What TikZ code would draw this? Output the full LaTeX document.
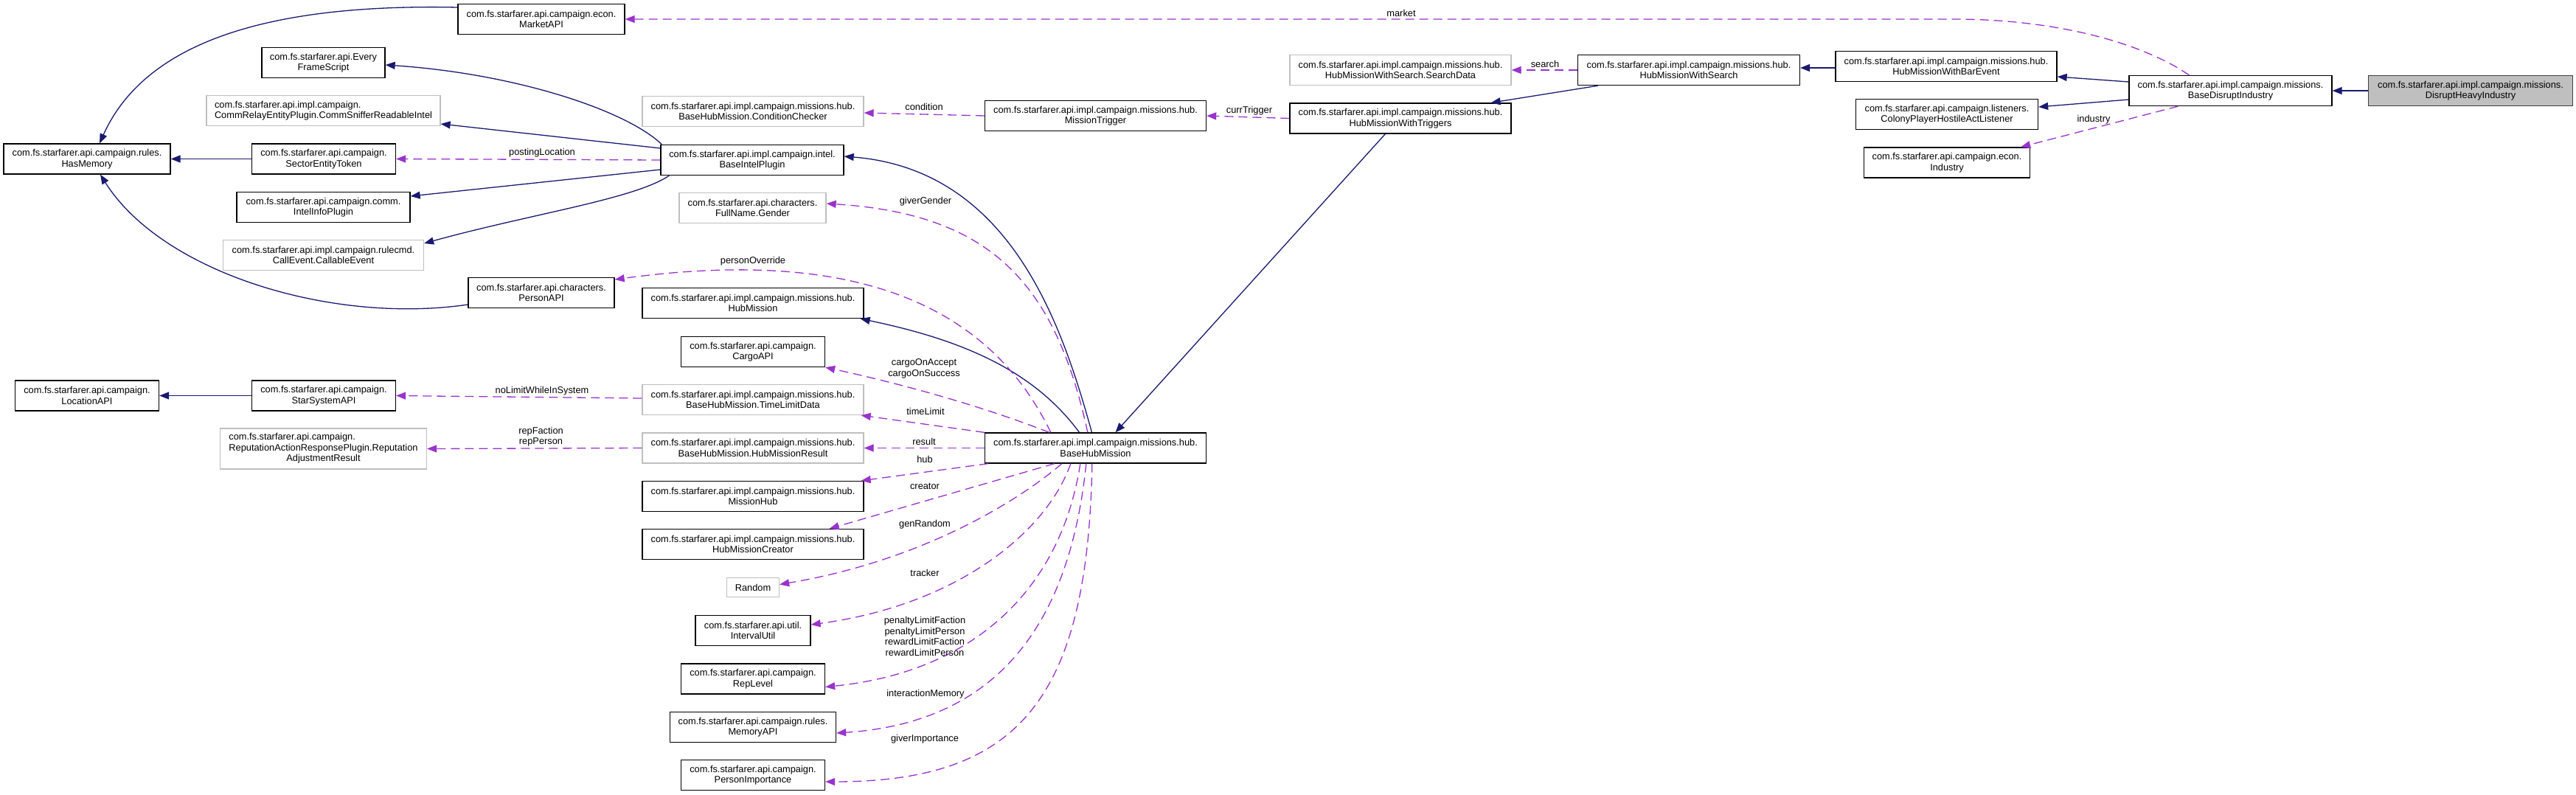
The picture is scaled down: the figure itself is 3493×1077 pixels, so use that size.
\documentclass[tikz,border=0pt]{standalone}
\usepackage{fontspec}
\setmainfont{Liberation Sans}
\usetikzlibrary{arrows.meta,calc}
\definecolor{navy}{HTML}{191970}
\definecolor{orch}{HTML}{9A32CD}
\definecolor{lgray}{HTML}{BFBFBF}
\definecolor{dgray}{HTML}{404040}
\begin{document}
\begin{tikzpicture}[x=1pt,y=-1pt,
  box/.style={draw=black,line width=1.3pt,fill=white,minimum height=41pt,inner sep=0pt,align=center,font=\fontsize{12.8}{14.5}\selectfont},
  gbox/.style={box,draw=lgray},
  lbl/.style={font=\fontsize{12.8}{14.5}\selectfont,align=center,inner sep=0pt},
  inh/.style={draw=navy,line width=1.3pt,-{Triangle[length=13pt,width=10pt]}},
  dep/.style={draw=orch,line width=1.3pt,dash pattern=on 12pt off 7pt,-{Triangle[length=13pt,width=10pt]}}
]
\useasboundingbox (0,0) rectangle (3493,1077);

% left column
\node[box,minimum width=226pt] (hm) at (118,215.5) {com.fs.starfarer.api.campaign.rules.\\HasMemory};
\node[box,minimum width=195pt] (loc) at (118,536.5) {com.fs.starfarer.api.campaign.\\LocationAPI};

% second column
\node[box,minimum width=226pt] (market) at (734,26) {com.fs.starfarer.api.campaign.econ.\\MarketAPI};
\node[box,minimum width=167pt] (efs) at (438.5,85) {com.fs.starfarer.api.Every\\FrameScript};
\node[gbox,minimum width=317pt,align=left] (sniff) at (438.5,150) {com.fs.starfarer.api.impl.campaign.\\CommRelayEntityPlugin.CommSnifferReadableIntel};
\node[box,minimum width=195pt] (set) at (439,215.5) {com.fs.starfarer.api.campaign.\\SectorEntityToken};
\node[box,minimum width=235pt] (iip) at (438.5,281) {com.fs.starfarer.api.campaign.comm.\\IntelInfoPlugin};
\node[gbox,minimum width=272pt] (ce) at (438.5,346) {com.fs.starfarer.api.impl.campaign.rulecmd.\\CallEvent.CallableEvent};
\node[box,minimum width=198pt] (person) at (734,397) {com.fs.starfarer.api.characters.\\PersonAPI};
\node[box,minimum width=195pt] (ssa) at (439,536.5) {com.fs.starfarer.api.campaign.\\StarSystemAPI};
\node[gbox,minimum width=280pt,minimum height=55pt] (rep) at (438.5,608.5) {\begin{tabular}{@{}l@{}}com.fs.starfarer.api.campaign.\\ReputationActionResponsePlugin.Reputation\\\multicolumn{1}{@{}c@{}}{AdjustmentResult}\end{tabular}};

% third column
\node[gbox,minimum width=300pt] (cond) at (1021,151) {com.fs.starfarer.api.impl.campaign.missions.hub.\\BaseHubMission.ConditionChecker};
\node[box,minimum width=248pt] (bip) at (1020,217) {com.fs.starfarer.api.impl.campaign.intel.\\BaseIntelPlugin};
\node[gbox,minimum width=199pt] (gender) at (1020.5,282) {com.fs.starfarer.api.characters.\\FullName.Gender};
\node[box,minimum width=300pt] (hmiss) at (1021,411) {com.fs.starfarer.api.impl.campaign.missions.hub.\\HubMission};
\node[box,minimum width=195pt] (cargo) at (1021,477) {com.fs.starfarer.api.campaign.\\CargoAPI};
\node[gbox,minimum width=300pt] (tld) at (1021,542) {com.fs.starfarer.api.impl.campaign.missions.hub.\\BaseHubMission.TimeLimitData};
\node[gbox,minimum width=300pt] (hmr) at (1021,607.5) {com.fs.starfarer.api.impl.campaign.missions.hub.\\BaseHubMission.HubMissionResult};
\node[box,minimum width=300pt] (mhub) at (1021,673) {com.fs.starfarer.api.impl.campaign.missions.hub.\\MissionHub};
\node[box,minimum width=300pt] (hmc) at (1021,738) {com.fs.starfarer.api.impl.campaign.missions.hub.\\HubMissionCreator};
\node[gbox,minimum width=71pt,minimum height=26pt] (rand) at (1021,796.5) {Random};
\node[box,minimum width=156pt] (iu) at (1021,855) {com.fs.starfarer.api.util.\\IntervalUtil};
\node[box,minimum width=195pt] (rl) at (1021,920.5) {com.fs.starfarer.api.campaign.\\RepLevel};
\node[box,minimum width=225pt] (mem) at (1021,986) {com.fs.starfarer.api.campaign.rules.\\MemoryAPI};
\node[box,minimum width=195pt] (pimp) at (1021,1051) {com.fs.starfarer.api.campaign.\\PersonImportance};

% fourth column
\node[box,minimum width=300pt] (mt) at (1485.5,157) {com.fs.starfarer.api.impl.campaign.missions.hub.\\MissionTrigger};
\node[box,minimum width=300pt] (bhm) at (1485.5,607.5) {com.fs.starfarer.api.impl.campaign.missions.hub.\\BaseHubMission};

% right part
\node[gbox,minimum width=300pt] (sd) at (1899,95) {com.fs.starfarer.api.impl.campaign.missions.hub.\\HubMissionWithSearch.SearchData};
\node[box,minimum width=300pt] (hmwt) at (1899,160.5) {com.fs.starfarer.api.impl.campaign.missions.hub.\\HubMissionWithTriggers};
\node[box,minimum width=301pt] (hmws) at (2290,95) {com.fs.starfarer.api.impl.campaign.missions.hub.\\HubMissionWithSearch};
\node[box,minimum width=300pt] (hmwbe) at (2639,90) {com.fs.starfarer.api.impl.campaign.missions.hub.\\HubMissionWithBarEvent};
\node[box,minimum width=247pt] (colony) at (2640,155) {com.fs.starfarer.api.campaign.listeners.\\ColonyPlayerHostileActListener};
\node[box,minimum width=225pt] (ind) at (2640,220.5) {com.fs.starfarer.api.campaign.econ.\\Industry};
\node[box,minimum width=275pt] (bdi) at (3024.5,123) {com.fs.starfarer.api.impl.campaign.missions.\\BaseDisruptIndustry};
\node[box,draw=dgray,fill=lgray,minimum width=277pt] (dhi) at (3350,123) {com.fs.starfarer.api.impl.campaign.missions.\\DisruptHeavyIndustry};

% inheritance edges
\draw[inh] (dhi.west) -- (bdi.east);
\draw[inh] ($(bdi.west)+(0,-12)$) -- ($(hmwbe.east)+(0,14)$);
\draw[inh] ($(bdi.west)+(0,12)$) -- ($(colony.east)+(0,-10)$);
\draw[inh] ($(hmwbe.west)+(0,2)$) -- ($(hmws.east)+(0,-3)$);
\draw[inh] ($(hmws.south west)+(28,0)$) -- ($(hmwt.north east)+(-28,0)$);
\draw[inh] ($(hmwt.south west)+(130,0)$) -- ($(bhm.north)+(27,0)$);
\draw[inh] ($(bhm.north)+(-5,0)$) .. controls (1440,440) and (1370,230) .. ($(bip.east)+(0,-5)$);
\draw[inh] ($(bhm.north)+(-22,0)$) .. controls (1400,500) and (1300,460) .. ($(hmiss.south east)+(-5,0)$);
\draw[inh] ($(bip.north west)+(2,0)$) .. controls (850,150) and (700,100) .. ($(efs.east)+(0,3)$);
\draw[inh] ($(bip.west)+(0,-16)$) -- ($(sniff.east)+(0,18)$);
\draw[inh] ($(bip.west)+(0,13)$) -- ($(iip.east)+(0,-15)$);
\draw[inh] ($(bip.south west)+(12,0)$) .. controls (860,270) and (720,290) .. ($(ce.east)+(0,-16)$);
\draw[inh] (set.west) -- (hm.east);
\draw[inh] ($(market.west)+(0,-16)$) .. controls (380,5) and (200,50) .. ($(hm.north)+(17,0)$);
\draw[inh] ($(person.west)+(0,16)$) .. controls (450,440) and (220,370) .. ($(hm.south)+(18,0)$);
\draw[inh] (ssa.west) -- (loc.east);

% usage edges
\draw[dep] ($(bdi.south west)+(67,0)$) -- ($(ind.north east)+(-13,0)$);
\draw[dep] ($(bdi.north west)+(82,0)$) .. controls (2900,55) and (2780,26) .. (2650,26) -- (market.east);
\draw[dep] (hmws.west) -- (sd.east);
\draw[dep] (hmwt.west) -- (mt.east);
\draw[dep] (mt.west) -- ($(cond.east)+(0,2)$);
\draw[dep] (bip.west) -- (set.east);
\draw[dep] ($(tld.west)+(0,-2)$) -- (ssa.east);
\draw[dep] (hmr.west) -- (rep.east);
\draw[dep] ($(bhm.north west)+(90,0)$) .. controls (1330,390) and (1120,340) .. ($(person.east)+(0,-18)$);
\draw[dep] ($(bhm.north west)+(140,0)$) .. controls (1430,380) and (1340,290) .. ($(gender.east)+(0,-6)$);
\draw[dep] ($(bhm.north west)+(88,0)$) .. controls (1330,550) and (1220,520) .. (cargo.south east);
\draw[dep] (bhm.north west) -- ($(tld.south east)+(-4,0)$);
\draw[dep] (bhm.west) -- (hmr.east);
\draw[dep] ($(bhm.south west)+(5,0)$) -- ($(mhub.north east)+(-4,0)$);
\draw[dep] ($(bhm.south west)+(95,0)$) -- ($(hmc.north east)+(-47,0)$);
\draw[dep] ($(bhm.south west)+(105,0)$) .. controls (1380,680) and (1250,760) .. ($(rand.east)+(0,-4)$);
\draw[dep] ($(bhm.south west)+(117,0)$) .. controls (1420,720) and (1300,820) .. ($(iu.east)+(0,-8)$);
\draw[dep] ($(bhm.south west)+(130,0)$) .. controls (1440,790) and (1330,910) .. ($(rl.east)+(0,11)$);
\draw[dep] ($(bhm.south west)+(138,0)$) .. controls (1450,850) and (1350,980) .. ($(mem.east)+(0,8)$);
\draw[dep] ($(bhm.south west)+(146,0)$) .. controls (1475,950) and (1380,1060) .. ($(pimp.east)+(0,9)$);

% edge labels
\node[lbl] (l-industry) at (2839,162) {industry};
\node[lbl] (l-market) at (1900,18) {market};
\node[lbl] (l-search) at (2095,87) {search};
\node[lbl] (l-curr) at (1694,150) {currTrigger};
\node[lbl] (l-cond) at (1253,145) {condition};
\node[lbl] (l-posting) at (735,207) {postingLocation};
\node[lbl] (l-nolimit) at (735,530) {noLimitWhileInSystem};
\node[lbl] (l-rep) at (733.5,592) {repFaction\\repPerson};
\node[lbl] (l-person) at (1021,354) {personOverride};
\node[lbl] (l-gender) at (1255,273) {giverGender};
\node[lbl] (l-cargo) at (1253,500) {cargoOnAccept\\cargoOnSuccess};
\node[lbl] (l-time) at (1255,558) {timeLimit};
\node[lbl] (l-result) at (1253,599) {result};
\node[lbl] (l-hub) at (1254,623) {hub};
\node[lbl] (l-creator) at (1254,659) {creator};
\node[lbl] (l-gen) at (1254,711) {genRandom};
\node[lbl] (l-tracker) at (1254,777) {tracker};
\node[lbl] (l-penalty) at (1254,863) {penaltyLimitFaction\\penaltyLimitPerson\\rewardLimitFaction\\rewardLimitPerson};
\node[lbl] (l-inter) at (1255,941) {interactionMemory};
\node[lbl] (l-giver) at (1254,1002) {giverImportance};
\end{tikzpicture}
\end{document}
